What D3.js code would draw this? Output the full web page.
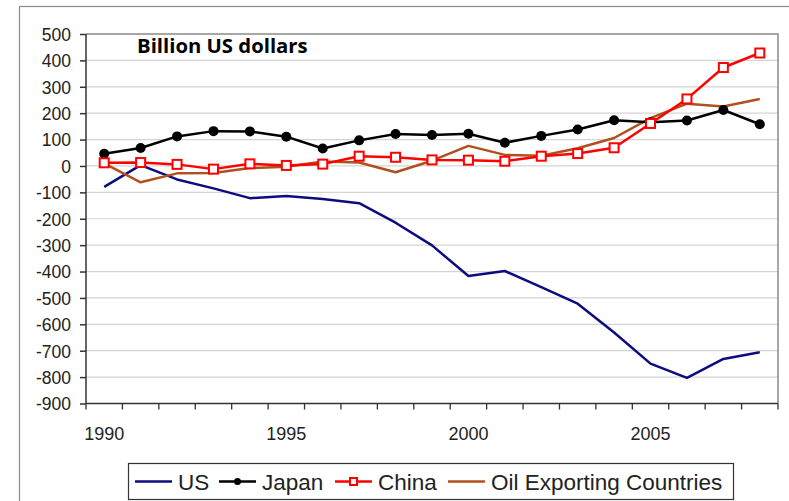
<!DOCTYPE html>
<html>
<head>
<meta charset="utf-8">
<script src="https://cdn.jsdelivr.net/npm/d3@7"></script>
<style>
  body { margin: 0; background: #fff; }
  .tick text { font-family: "Liberation Sans", Arial, sans-serif; fill: #222; }
</style>
</head>
<body>
<svg id="chart"></svg>
<script>
/// DATA ////////////////////////////////////////////////////////////////////////////////

var years = d3.range(1990, 2009);
var yTicks = [500, 400, 300, 200, 100, 0, -100, -200, -300, -400, -500, -600, -700, -800, -900];
var yearLabels = [1990, 1995, 2000, 2005];

var usValues = [-79, 3, -51, -85, -122, -114, -125, -141, -215, -301, -417, -398, -459, -522, -631, -749, -803, -731, -706];
var japanValues = [46, 68, 112, 132, 131, 111, 66, 97, 121, 117, 122, 88, 114, 138, 173, 166, 172, 212, 158];
var chinaValues = [12, 13, 6, -12, 8, 2, 7, 37, 33, 23, 22, 18, 37, 47, 69, 161, 254, 373, 428];
var oilValues = [10, -62, -28, -27, -8, -3, 17, 13, -24, 20, 76, 42, 39, 67, 106, 181, 236, 225, 254];

var series = [
    { name: 'US', values: usValues, color: '#0c0c80', marker: 'none' },
    { name: 'Japan', values: japanValues, color: '#000000', marker: 'circle' },
    { name: 'China', values: chinaValues, color: '#ff0000', marker: 'square' },
    { name: 'Oil Exporting Countries', values: oilValues, color: '#b0501e', marker: 'none' }
];

/// SETUP ///////////////////////////////////////////////////////////////////////////////

var WIDTH = 789, HEIGHT = 501;
var PLOT_LEFT = 86, PLOT_TOP = 34, PLOT_RIGHT = 778, PLOT_BOTTOM = 403.5;

var svg = d3.select('#chart')
    .attr('width', WIDTH)
    .attr('height', HEIGHT);

// outer chart frame
svg.append('rect')
    .attr('x', 19.5).attr('y', 6.5)
    .attr('width', WIDTH).attr('height', HEIGHT)
    .attr('fill', 'none')
    .attr('stroke', '#8a8a8a')
    .attr('stroke-width', 1.2);

var x = d3.scaleBand().domain(years).range([PLOT_LEFT, PLOT_RIGHT]);
var y = d3.scaleLinear().domain([-900, 500]).range([PLOT_BOTTOM, PLOT_TOP]);

// gridlines
svg.append('g')
    .selectAll('line')
    .data(yTicks.filter(function (d) { return d !== -900 && d !== 500; }))
    .enter()
    .append('line')
        .attr('x1', PLOT_LEFT).attr('x2', PLOT_RIGHT)
        .attr('y1', function (d) { return y(d); })
        .attr('y2', function (d) { return y(d); })
        .attr('stroke', '#d4d4d4')
        .attr('stroke-width', 1.2);

// plot border (top / right)
svg.append('path')
    .attr('d', 'M' + PLOT_LEFT + ',' + PLOT_TOP + 'H' + PLOT_RIGHT + 'V' + PLOT_BOTTOM)
    .attr('fill', 'none')
    .attr('stroke', '#8a8a8a')
    .attr('stroke-width', 1.5);

// Y-axis (plain hyphen for negatives)
var yAxis = svg.append('g')
    .attr('transform', 'translate(' + PLOT_LEFT + ',0)')
    .call(d3.axisLeft(y).tickValues(yTicks).tickSize(6).tickPadding(9).tickFormat(function (d) { return String(d); }));
yAxis.selectAll('text').style('font-size', '17.5px').attr('dy', '0.36em');
yAxis.selectAll('line, path').attr('stroke', '#333').attr('stroke-width', 1.5);
yAxis.select('.domain').attr('d', 'M0,' + PLOT_TOP + 'V' + PLOT_BOTTOM);

// X-axis: ticks between categories
var xAxis = svg.append('g')
    .attr('transform', 'translate(0,' + PLOT_BOTTOM + ')');
xAxis.append('line')
    .attr('x1', PLOT_LEFT).attr('x2', PLOT_RIGHT)
    .attr('stroke', '#333').attr('stroke-width', 1.5);
xAxis.selectAll('.xtick')
    .data(years.concat([2009]))
    .enter()
    .append('line')
        .attr('class', 'xtick')
        .attr('x1', function (d) { return d === 2009 ? PLOT_RIGHT : x(d); })
        .attr('x2', function (d) { return d === 2009 ? PLOT_RIGHT : x(d); })
        .attr('y2', 6)
        .attr('stroke', '#333').attr('stroke-width', 1.3);
xAxis.selectAll('.xlabel')
    .data(yearLabels)
    .enter()
    .append('text')
        .attr('class', 'xlabel')
        .attr('x', function (d) { return x(d) + x.bandwidth() / 2; })
        .attr('y', 36.5)
        .attr('text-anchor', 'middle')
        .style('font-family', '"Liberation Sans", Arial, sans-serif')
        .style('font-size', '18px')
        .style('fill', '#222')
        .text(function (d) { return d; });

// title
svg.append('text')
    .attr('x', 137)
    .attr('y', 53)
    .style('font-family', '"Open Sans", sans-serif')
    .style('font-weight', 'bold')
    .style('font-size', '20.3px')
    .style('fill', '#000')
    .text('Billion US dollars');

/// LINES ///////////////////////////////////////////////////////////////////////////////

var line = d3.line()
    .x(function (d, i) { return x(years[i]) + x.bandwidth() / 2; })
    .y(function (d) { return y(d); });

function drawMarker(sel, type, size) {
    if (type === 'circle') {
        sel.append('circle')
            .attr('r', size)
            .attr('fill', '#000');
    } else if (type === 'square') {
        sel.append('rect')
            .attr('x', -size).attr('y', -size)
            .attr('width', size * 2).attr('height', size * 2)
            .attr('fill', '#fff')
            .attr('stroke', '#ff0000')
            .attr('stroke-width', 2);
    }
}

// draw order: US, Oil, Japan, China on top
[series[0], series[3], series[1], series[2]].forEach(function (s) {
    svg.append('path')
        .datum(s.values)
        .attr('d', line)
        .attr('fill', 'none')
        .attr('stroke', s.color)
        .attr('stroke-width', 2.5)
        .attr('stroke-linejoin', 'round');

    if (s.marker !== 'none') {
        svg.append('g')
            .selectAll('g')
            .data(s.values)
            .enter()
            .append('g')
                .attr('transform', function (d, i) {
                    return 'translate(' + (x(years[i]) + x.bandwidth() / 2) + ',' + y(d) + ')';
                })
                .each(function () { drawMarker(d3.select(this), s.marker, s.marker === 'circle' ? 5 : 4.5); });
    }
});

/// LEGEND //////////////////////////////////////////////////////////////////////////////

var legend = svg.append('g');
legend.append('rect')
    .attr('x', 128.5).attr('y', 463.5)
    .attr('width', 605).attr('height', 36)
    .attr('fill', '#fff')
    .attr('stroke', '#333')
    .attr('stroke-width', 1.2);

var legendX = [135, 219, 335, 448];
series.forEach(function (s, i) {
    var g = legend.append('g').attr('transform', 'translate(' + legendX[i] + ',481.5)');
    g.append('line')
        .attr('x1', 0).attr('x2', 37)
        .attr('stroke', s.color)
        .attr('stroke-width', 2.5);
    var m = g.append('g').attr('transform', 'translate(18.5,0)');
    drawMarker(m, s.marker, 3.5);
    g.append('text')
        .attr('x', 43)
        .attr('y', 8)
        .style('font-family', '"Liberation Sans", Arial, sans-serif')
        .style('font-size', '22.5px')
        .style('fill', '#222')
        .text(s.name);
});
</script>
</body>
</html>
